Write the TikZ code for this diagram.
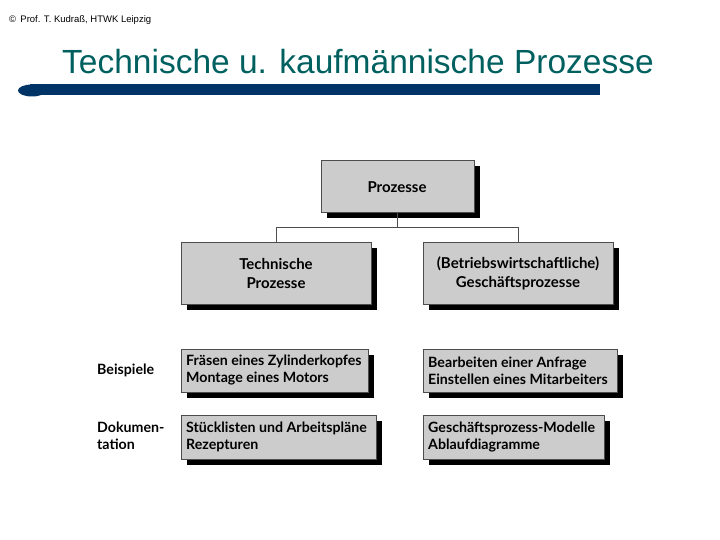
\documentclass[tikz,border=0pt]{standalone}
\usepackage{fontspec}
\setmainfont{Liberation Sans}
\newfontfamily\boxfont{Lato}
\definecolor{titleteal}{RGB}{0,96,96}
\definecolor{barblue}{RGB}{0,51,102}
\begin{document}
\begin{tikzpicture}[x=1pt,y=-1pt,
  bx/.style={draw=black!70,line width=0.6pt,fill=black!20,inner sep=0pt,anchor=north west},
  bxtxt/.style={font=\boxfont\bfseries\fontsize{14.2}{17}\selectfont,align=left,anchor=west,inner sep=0pt},
  cntxt/.style={font=\boxfont\bfseries\fontsize{15}{19}\selectfont,align=center}]
\useasboundingbox (0,0) rectangle (720,540);
\node[anchor=west,font=\fontsize{9.5}{10}\selectfont,inner sep=0pt] (hdr) at (9,20) {© \,Prof. T. Kudraß, HTWK Leipzig};
\node[anchor=base west,font=\fontsize{33.5}{36}\selectfont,text=titleteal,inner sep=0pt] (title) at (62,74) {Technische u. kaufmännische Prozesse};
\fill[barblue] (30,84) rectangle (600,95);
\fill[barblue] (32,90.5) ellipse (14 and 6);
% shadows
\foreach \a/\b/\c/\d in {321/160/474/212, 181/242/371/304, 423/242/613/304, 181/349/368/392, 423/349/617/392, 181/415/376/459, 423/415/604/459}
  \fill[black] (\a+6,\b+6) rectangle (\c+6,\d+6);
\draw[bx] (321,160) rectangle (474,212);
\draw[bx] (181,242) rectangle (371,304);
\draw[bx] (423,242) rectangle (613,304);
\draw[bx] (181,349) rectangle (368,392);
\draw[bx] (423,349) rectangle (617,392);
\draw[bx] (181,415) rectangle (376,459);
\draw[bx] (423,415) rectangle (604,459);
\node[cntxt] (p) at (397,187) {Prozesse};
\node[cntxt] (t) at (276,273) {Technische\\Prozesse};
\node[cntxt] (g) at (518,273) {(Betriebswirtschaftliche)\\Geschäftsprozesse};
\coordinate (pb) at (397,212);
\coordinate (tb) at (276,242);
\coordinate (gb) at (518,242);
\draw[black!70,line width=0.6pt] (pb) -- (397,227) -| (tb);
\draw[black!70,line width=0.6pt] (397,227) -| (gb);
\node[bxtxt] (b1) at (186,370) {Fräsen eines Zylinderkopfes\\Montage eines Motors};
\node[bxtxt] (b2) at (428,371) {Bearbeiten einer Anfrage\\Einstellen eines Mitarbeiters};
\node[bxtxt] (d1) at (186,437) {Stücklisten und Arbeitspläne\\Rezepturen};
\node[bxtxt] (d2) at (428,437) {Geschäftsprozess-Modelle\\Ablaufdiagramme};
\node[bxtxt] (lb) at (97,370) {Beispiele};
\node[bxtxt] (ld) at (97,436) {Dokumen-\\tation};
\end{tikzpicture}
\end{document}
